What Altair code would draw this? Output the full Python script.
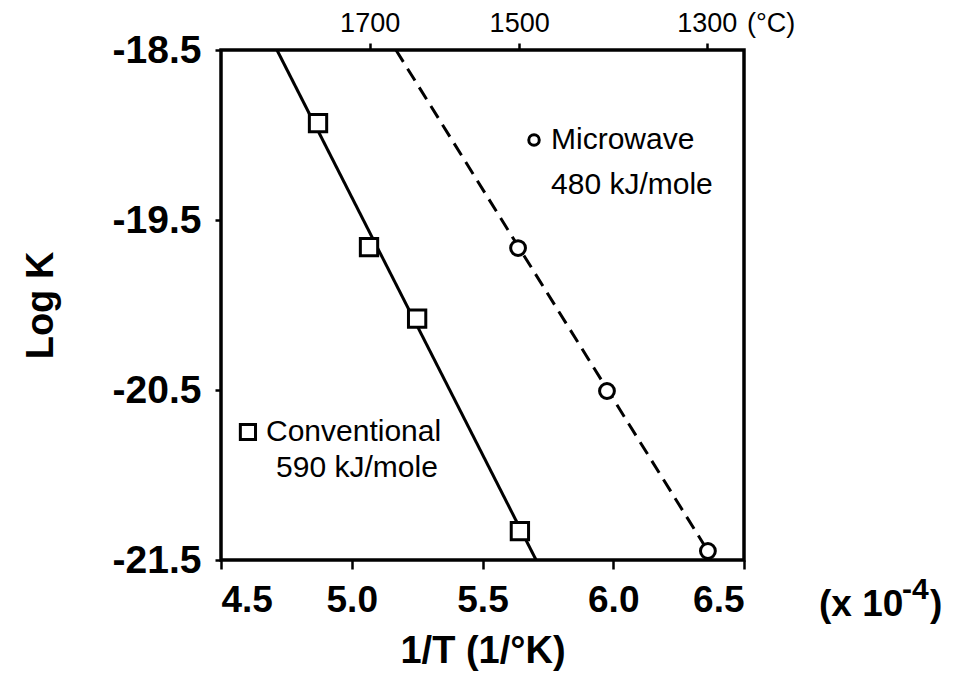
import altair as alt
import pandas as pd

# ---- data (1/T in units of 1e-4 1/K, log K) ----
conv_x = [4.871, 5.066, 5.250, 5.643]
conv_y = [-18.93, -19.66, -20.08, -21.33]
micro_x = [5.636, 5.976, 6.362]
micro_y = [-19.665, -20.506, -21.447]

# fitted lines as drawn
conv_line_x = [4.714, 5.705]
conv_line_y = [-18.5, -21.5]
micro_line_x = [5.169, 6.362]
micro_line_y = [-18.5, -21.447]

x_ticks = [4.5, 5.0, 5.5, 6.0, 6.5]
y_ticks = [-21.5, -20.5, -19.5, -18.5]
celsius_ticks = [1700, 1500, 1300]
top_tick_pos = [1e4 / (c + 273) for c in celsius_ticks]

FONT = "Liberation Sans"

conv_df = pd.DataFrame({"x": conv_x, "y": conv_y})
micro_df = pd.DataFrame({"x": micro_x, "y": micro_y})
conv_line_df = pd.DataFrame({"x": conv_line_x, "y": conv_line_y})
micro_line_df = pd.DataFrame({"x": micro_line_x, "y": micro_line_y})

xscale = alt.Scale(domain=[4.5, 6.5], nice=False, zero=False)
yscale = alt.Scale(domain=[-21.5, -18.5], nice=False, zero=False)

x_axis = alt.Axis(values=x_ticks, format=".1f", title="1/T (1/°K)", orient="bottom",
                  labelFont=FONT, labelFontSize=37, labelFontWeight="bold",
                  titleFont=FONT, titleFontSize=38, titleFontWeight="bold",
                  labelPadding=13, titlePadding=14, tickSize=9, tickWidth=2.5,
                  tickColor="black", labelColor="black", titleColor="black",
                  domain=False, grid=False)
y_axis = alt.Axis(values=y_ticks, title="Log K",
                  labelExpr="(datum.value < 0 ? '-' : '') + format(abs(datum.value), '.1f')",
                  labelFont=FONT, labelFontSize=39, labelFontWeight="bold",
                  titleFont=FONT, titleFontSize=38, titleFontWeight="bold",
                  labelPadding=14, titlePadding=52, tickSize=6, tickWidth=2.5,
                  tickColor="black", labelColor="black", titleColor="black",
                  domain=False, grid=False)


def XY():
    return dict(x=alt.X("x:Q", scale=xscale, axis=x_axis),
                y=alt.Y("y:Q", scale=yscale, axis=y_axis))


conv_line = alt.Chart(conv_line_df).mark_line(color="black", strokeWidth=3).encode(**XY())
micro_line = alt.Chart(micro_line_df).mark_line(color="black", strokeWidth=3,
                                                strokeDash=[14, 8]).encode(**XY())

conv_pts = alt.Chart(conv_df).mark_point(shape="square", size=300, filled=True, fill="white",
                                         stroke="black", strokeWidth=3, opacity=1).encode(**XY())
micro_pts = alt.Chart(micro_df).mark_point(shape="circle", size=220, filled=True, fill="white",
                                           stroke="black", strokeWidth=3, opacity=1).encode(**XY())

# top (Celsius) axis
top_df = pd.DataFrame({"x": top_tick_pos, "y": [-18.5] * 3})
top_axis = alt.Axis(values=top_tick_pos, orient="top", title=None,
                    labelExpr="format(round(10000/datum.value - 273), 'd')",
                    labelFont=FONT, labelFontSize=27, labelColor="black",
                    labelPadding=6, tickSize=7, tickWidth=2.5, tickColor="black",
                    domain=False, grid=False)
top_layer = alt.Chart(top_df).mark_point(opacity=0).encode(
    x=alt.X("x:Q", scale=xscale, axis=top_axis), y=alt.Y("y:Q", scale=yscale, axis=y_axis))

# legend-style annotations inside the plot
leg_circle = alt.Chart(pd.DataFrame({"x": [5.697], "y": [-19.03]})).mark_point(
    shape="circle", size=110, filled=True, fill="white", stroke="black", strokeWidth=3,
    opacity=1).encode(**XY())
leg_square = alt.Chart(pd.DataFrame({"x": [4.603], "y": [-20.747]})).mark_point(
    shape="square", size=230, filled=True, fill="white", stroke="black", strokeWidth=3,
    opacity=1).encode(**XY())

ann_df = pd.DataFrame({
    "x": [5.762, 5.762, 4.672, 5.020],
    "y": [-19.03, -19.294, -20.747, -20.959],
    "t": ["Microwave", "480 kJ/mole", "Conventional", "590 kJ/mole"],
    "a": ["left", "left", "left", "center"],
})
ann_left = alt.Chart(ann_df[ann_df.a == "left"]).mark_text(
    font=FONT, fontSize=30, align="left", baseline="middle", color="black").encode(
    text="t:N", **XY())
ann_center = alt.Chart(ann_df[ann_df.a == "center"]).mark_text(
    font=FONT, fontSize=30, align="center", baseline="middle", color="black").encode(
    text="t:N", **XY())

# texts outside the plot area (pixel offsets relative to plot origin)
degc = alt.Chart(pd.DataFrame({"t": ["(°C)"]})).mark_text(
    font=FONT, fontSize=27, align="left", baseline="middle", color="black").encode(
    x=alt.value(526), y=alt.value(-26), text="t:N")
xmul1 = alt.Chart(pd.DataFrame({"t": ["(x 10"]})).mark_text(
    font=FONT, fontSize=37, fontWeight="bold", align="left", baseline="middle", color="black").encode(
    x=alt.value(598), y=alt.value(555), text="t:N")
xmul2 = alt.Chart(pd.DataFrame({"t": ["-4"]})).mark_text(
    font=FONT, fontSize=30, fontWeight="bold", align="left", baseline="middle", color="black").encode(
    x=alt.value(681), y=alt.value(540), text="t:N")
xmul3 = alt.Chart(pd.DataFrame({"t": [")"]})).mark_text(
    font=FONT, fontSize=37, fontWeight="bold", align="left", baseline="middle", color="black").encode(
    x=alt.value(709), y=alt.value(555), text="t:N")

main = alt.layer(conv_line, micro_line, conv_pts, micro_pts, leg_circle, leg_square,
                 ann_left, ann_center, degc, xmul1, xmul2, xmul3)

chart = alt.layer(main, top_layer).resolve_axis(x="independent").properties(
    width=523, height=510,
    padding={"left": 213, "top": 42, "right": 215, "bottom": 123},
    autosize=alt.AutoSizeParams(type="none"),
    background="white",
).configure_view(stroke="black", strokeWidth=3.5)

chart.save("out.html", embed_options={"renderer": "svg", "actions": False})
